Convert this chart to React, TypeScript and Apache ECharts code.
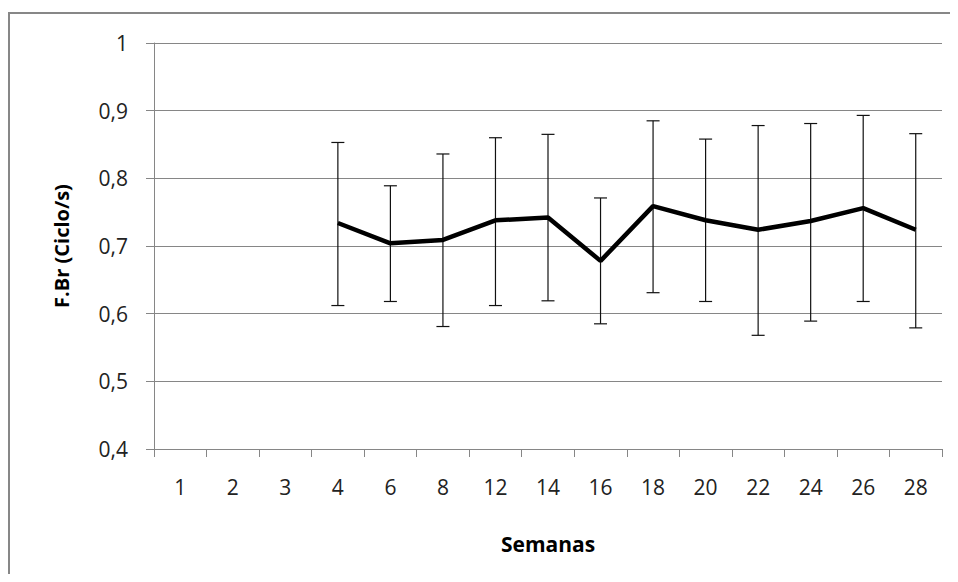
import React, { useEffect, useRef } from "react";
import * as echarts from "echarts";

const weeks = ["1", "2", "3", "4", "6", "8", "12", "14", "16", "18", "20", "22", "24", "26", "28"];
const means: (number | null)[] = [null, null, null, 0.734, 0.704, 0.709, 0.738, 0.742, 0.678, 0.759, 0.738, 0.724, 0.737, 0.756, 0.724];
const upper: (number | null)[] = [null, null, null, 0.853, 0.789, 0.836, 0.860, 0.865, 0.771, 0.885, 0.858, 0.878, 0.881, 0.893, 0.866];
const lower: (number | null)[] = [null, null, null, 0.612, 0.618, 0.581, 0.612, 0.619, 0.585, 0.631, 0.618, 0.568, 0.589, 0.618, 0.579];
const yTicks = [0.4, 0.5, 0.6, 0.7, 0.8, 0.9, 1];

const FONT = "'Open Sans', sans-serif";

export default function App() {
  const ref = useRef<HTMLDivElement>(null);
  useEffect(() => {
    if (!ref.current) return;
    const chart = echarts.init(ref.current, null, { renderer: "svg" });
    const errData = weeks
      .map((_, i) => (lower[i] == null ? null : [i, lower[i], upper[i]]))
      .filter((d) => d != null);
    chart.setOption({
      animation: false,
      backgroundColor: "#ffffff",
      graphic: [
        {
          type: "rect",
          shape: { x: 9, y: 13, width: 970, height: 600 },
          style: { fill: "none", stroke: "#878787", lineWidth: 2 },
          silent: true,
        },
      ],
      grid: { left: 154, right: 16, top: 43, bottom: 133, containLabel: false },
      xAxis: {
        type: "category",
        data: weeks,
        boundaryGap: true,
        name: "Semanas",
        nameLocation: "middle",
        nameGap: 84,
        nameTextStyle: { fontFamily: FONT, fontSize: 21, fontWeight: "bold", color: "#000" },
        axisLine: { lineStyle: { color: "#868686", width: 1 } },
        axisTick: { show: true, alignWithLabel: false, length: 8, lineStyle: { color: "#868686" } },
        axisLabel: { fontFamily: FONT, fontSize: 21, color: "#222", margin: 27 },
        splitLine: { show: false },
      },
      yAxis: {
        type: "value",
        min: 0.4,
        max: 1,
        interval: 0.1,
        name: "F.Br (Ciclo/s)",
        nameLocation: "middle",
        nameGap: 83,
        nameRotate: 90,
        nameTextStyle: { fontFamily: FONT, fontSize: 20, fontWeight: "bold", color: "#000" },
        axisLine: { show: true, lineStyle: { color: "#868686", width: 1 } },
        axisTick: { show: true, length: 8, lineStyle: { color: "#868686" } },
        axisLabel: {
          fontFamily: FONT,
          fontSize: 21,
          color: "#222",
          margin: 26,
          formatter: (v: number) => {
            const t = yTicks.find((x) => Math.abs(x - v) < 1e-6);
            return t == null ? "" : String(t).replace(".", ",");
          },
        },
        splitLine: { show: true, lineStyle: { color: "#868686", width: 1 } },
      },
      series: [
        {
          type: "custom",
          z: 2,
          data: errData,
          renderItem: (params: any, api: any) => {
            const x = api.value(0);
            const lo = api.coord([x, api.value(1)]);
            const hi = api.coord([x, api.value(2)]);
            const hw = 6.5;
            const style = { stroke: "#111", lineWidth: 1.2, fill: "none" };
            return {
              type: "group",
              children: [
                { type: "line", shape: { x1: lo[0], y1: lo[1], x2: hi[0], y2: hi[1] }, style },
                { type: "line", shape: { x1: lo[0] - hw, y1: lo[1], x2: lo[0] + hw, y2: lo[1] }, style },
                { type: "line", shape: { x1: hi[0] - hw, y1: hi[1], x2: hi[0] + hw, y2: hi[1] }, style },
              ],
            };
          },
        },
        {
          type: "line",
          z: 3,
          data: means.map((v) => (v == null ? "-" : v)),
          symbol: "none",
          lineStyle: { color: "#000", width: 4.5 },
          connectNulls: false,
        },
      ],
    });
    return () => chart.dispose();
  }, []);
  return <div ref={ref} style={{ width: 958, height: 582, margin: -8 }} />;
}
